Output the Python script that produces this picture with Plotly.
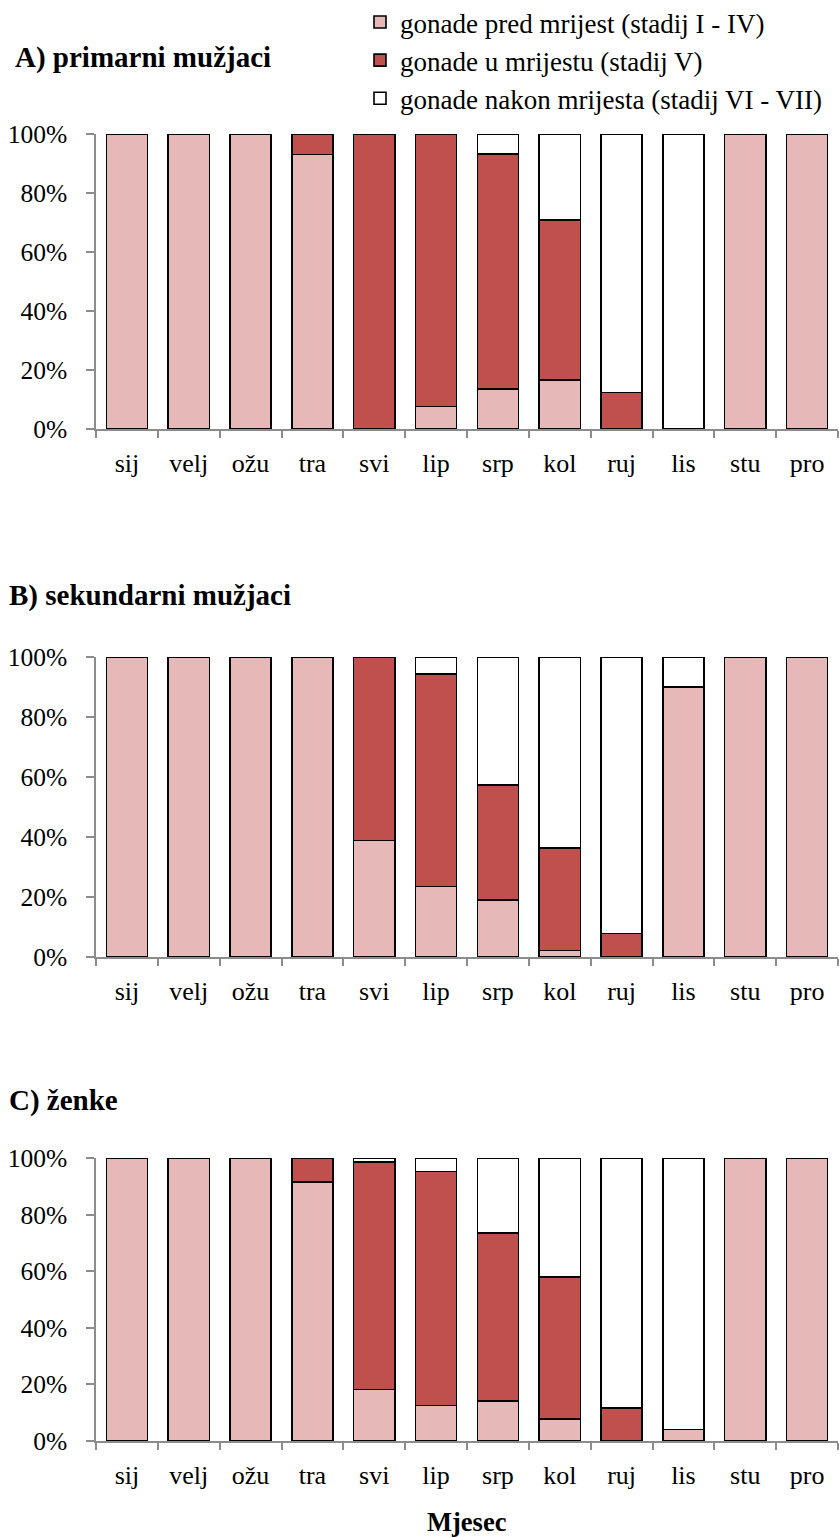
import plotly.graph_objects as go

# Month labels (Croatian abbreviations)
months = ["sij", "velj", "ožu", "tra", "svi", "lip", "srp", "kol", "ruj", "lis", "stu", "pro"]

# Share of gonad stages per month (%), panel A: primary males
a_pred = [100, 100, 100, 93.0, 0, 7.6, 13.5, 16.6, 0, 0, 100, 100]
a_mrijest = [0, 0, 0, 7.0, 100, 92.4, 79.7, 54.3, 12.4, 0, 0, 0]
a_nakon = [0, 0, 0, 0, 0, 0, 6.8, 29.1, 87.6, 100, 0, 0]

# Panel B: secondary males
b_pred = [100, 100, 100, 100, 38.8, 23.5, 19.0, 2.2, 0, 90.0, 100, 100]
b_mrijest = [0, 0, 0, 0, 61.2, 70.8, 38.3, 34.2, 7.8, 0, 0, 0]
b_nakon = [0, 0, 0, 0, 0, 5.7, 42.7, 63.6, 92.2, 10.0, 0, 0]

# Panel C: females
c_pred = [100, 100, 100, 91.5, 18.2, 12.6, 14.2, 7.7, 0, 4.0, 100, 100]
c_mrijest = [0, 0, 0, 8.5, 80.3, 82.7, 59.3, 50.2, 11.6, 0, 0, 0]
c_nakon = [0, 0, 0, 0, 1.5, 4.7, 26.5, 42.1, 88.4, 96.0, 0, 0]

series_names = [
    "gonade pred mrijest (stadij I - IV)",
    "gonade u mrijestu (stadij V)",
    "gonade nakon mrijesta (stadij VI - VII)",
]
series_colors = ["#E6B9B8", "#C0504D", "#FFFFFF"]

panel_titles = ["A) primarni mužjaci", "B) sekundarni mužjaci", "C) ženke"]
y_ticks = [0, 20, 40, 60, 80, 100]
y_ticktext = ["0%", "20%", "40%", "60%", "80%", "100%"]

panels = [
    [a_pred, a_mrijest, a_nakon],
    [b_pred, b_mrijest, b_nakon],
    [c_pred, c_mrijest, c_nakon],
]

W, H = 839, 1537
FONT = "Liberation Serif"
AXIS_GREY = "#8C8C8C"

# Plot-area extents in pixels (top, bottom) for each panel
panel_px = [(134, 429), (657, 957), (1158, 1441)]
x_left, x_right = 96, 838

fig = go.Figure()

for p, data in enumerate(panels):
    sfx = "" if p == 0 else str(p + 1)
    for s, vals in enumerate(data):
        fig.add_trace(go.Bar(
            x=months,
            y=vals,
            name=series_names[s],
            legendgroup=series_names[s],
            showlegend=(p == 0),
            marker=dict(color=series_colors[s], line=dict(color="#000000", width=1.6)),
            xaxis="x" + sfx,
            yaxis="y" + sfx,
            hoverinfo="skip",
        ))

layout = dict(
    template="none",
    width=W,
    height=H,
    margin=dict(l=0, r=0, t=0, b=0, autoexpand=False),
    paper_bgcolor="white",
    plot_bgcolor="white",
    barmode="stack",
    bargap=0.335,
    font=dict(family=FONT, size=26, color="#000000"),
    showlegend=True,
    legend=dict(
        x=360 / W, y=1 + 2 / H, xanchor="left", yanchor="top",
        font=dict(family=FONT, size=27, color="#000000"),
        traceorder="grouped", tracegroupgap=0,
        itemwidth=30, bgcolor="rgba(0,0,0,0)",
    ),
    annotations=[],
)

for p in range(3):
    sfx = "" if p == 0 else str(p + 1)
    top, bot = panel_px[p]
    layout["xaxis" + sfx] = dict(
        domain=[x_left / W, x_right / W],
        anchor="y" + sfx,
        type="category",
        range=[-0.5, 11.5],
        showline=True, linecolor=AXIS_GREY, linewidth=1.5,
        ticks="outside", tickson="boundaries", ticklen=7, tickcolor=AXIS_GREY, tickwidth=1.5,
        showgrid=False, zeroline=False,
        tickfont=dict(family=FONT, size=26, color="#000000"),
        ticklabelstandoff=10,
        fixedrange=True,
    )
    layout["yaxis" + sfx] = dict(
        domain=[1 - bot / H, 1 - top / H],
        anchor="x" + sfx,
        range=[0, 100],
        tickvals=y_ticks, ticktext=y_ticktext,
        showline=True, linecolor=AXIS_GREY, linewidth=1.5,
        ticks="outside", ticklen=8, tickcolor=AXIS_GREY, tickwidth=1.5,
        showgrid=False, zeroline=False,
        tickfont=dict(family=FONT, size=25.5, color="#000000"),
        ticklabelstandoff=14,
        fixedrange=True,
    )

title_pos = [(13, 58), (7, 595), (7, 1100)]
for p, (tx, ty) in enumerate(title_pos):
    layout["annotations"].append(dict(
        text="<b>" + panel_titles[p] + "</b>",
        x=tx / W, y=1 - ty / H, xref="paper", yref="paper",
        xanchor="left", yanchor="middle", showarrow=False,
        font=dict(family=FONT, size=29, color="#000000"),
    ))

layout["annotations"].append(dict(
    text="<b>Mjesec</b>",
    x=467 / W, y=1 - 1522 / H, xref="paper", yref="paper",
    xanchor="center", yanchor="middle", showarrow=False,
    font=dict(family=FONT, size=26.5, color="#000000"),
))

fig.update_layout(**layout)
fig.write_html("out.html")
